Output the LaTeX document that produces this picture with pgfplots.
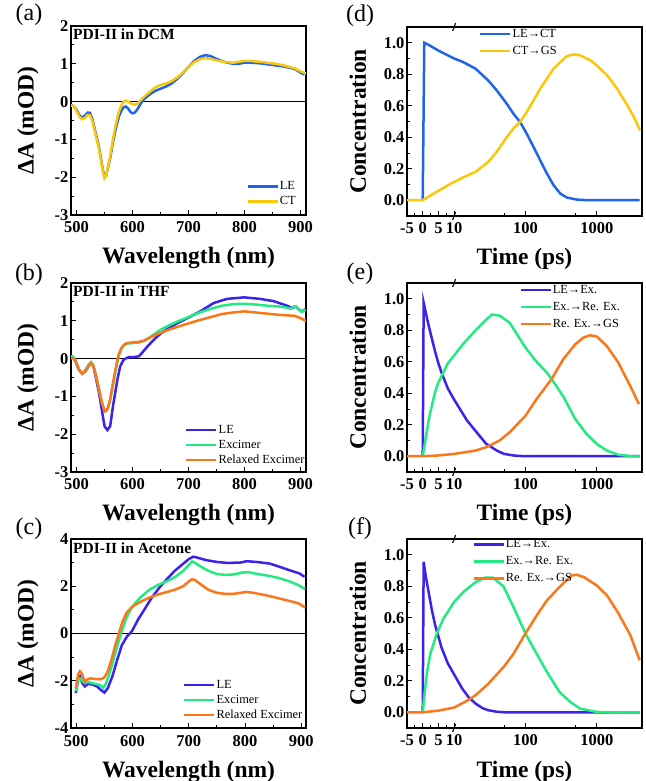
\documentclass[border=0pt]{standalone}
\usepackage{fontspec}
\setmainfont{Liberation Serif}
\usepackage{pgfplots}
\pgfplotsset{compat=1.18}
\definecolor{bA}{RGB}{31,100,235}
\definecolor{yA}{RGB}{250,200,10}
\definecolor{pB}{RGB}{60,35,235}
\definecolor{gB}{RGB}{35,235,130}
\definecolor{oB}{RGB}{250,120,25}
\newcommand{\tfont}{\fontsize{16.5}{16.5}\selectfont\bfseries}

\pgfplotsset{
  base/.style={scale only axis, width=235pt, height=189pt, anchor=south west,
    axis line style={line width=1.1pt}, tick align=inside, tick pos=left,
    major tick length=5pt, minor tick length=3pt,
    tick style={black, line width=0.9pt},
    /pgf/number format/assume math mode=true,
    xticklabel style={font=\tfont, yshift=-3pt},
    yticklabel style={font=\tfont, xshift=1pt},
    label style={font=\fontsize{23.5}{24}\selectfont\bfseries},
    xlabel style={at={(axis description cs:0.5,0)}, anchor=base, yshift=-49pt},
    clip mode=individual,
    legend cell align=left,
    legend style={draw=none, fill=none, inner sep=0pt, anchor=north west, row sep=1pt,
      nodes={inner sep=1pt, text height=9pt, text depth=3pt}, font=\fontsize{12.4}{12.4}\selectfont},
    legend image code/.code={\draw[#1,line width=2.5pt] (0pt,0pt) -- (30pt,0pt);},
    every axis plot/.append style={line width=2.5pt}},
  spec/.style={base, xmin=490, xmax=910, xtick={500,600,...,900},
    minor x tick num=1, minor y tick num=1,
    xlabel={Wavelength (nm)}, ylabel={ΔA (mOD)},
    ylabel style={at={(axis description cs:-0.183,0.5)}, anchor=center}},
  time/.style={base, xmin=-5, xmax=69.8, ymin=-0.1, ymax=1.1,
    xtick={-5,0,5,10,32.7,55.4}, xticklabels={-5,0,5,10,100,1000},
    minor xtick={-2.5,2.5,7.5,25.87,48.57},
    ytick={0,0.2,0.4,0.6,0.8,1.0}, minor y tick num=1,
    yticklabel style={/pgf/number format/.cd, fixed, fixed zerofill, precision=1},
    xlabel={Time (ps)}, ylabel={Concentration},
    legend style={row sep=3pt},
    ylabel style={at={(axis description cs:-0.209,0.5)}, anchor=center}},
  table/tt/.style={row sep=\\, y=c,
    x expr={\thisrow{t}>10 ? 10+22.7*(log10(max(\thisrow{t},1))-1) : \thisrow{t}}},
  table/sp/.style={row sep=\\, x=w, y=a}
}
\newcommand{\brk}{%
  \draw[line width=1.1pt] ([xshift=-1.5pt,yshift=-4pt]axis cs:10,1.1) -- ([xshift=1.5pt,yshift=4pt]axis cs:10,1.1);
  \draw[line width=1.1pt] ([xshift=-1.5pt,yshift=-4pt]axis cs:10,-0.1) -- ([xshift=1.5pt,yshift=4pt]axis cs:10,-0.1);}
\newcommand{\plabel}[3]{\node[font=\fontsize{24}{24}\selectfont] at ([xshift=#1,yshift=#2]rel axis cs:0,1) {#3};}
\newcommand{\ptitle}[2]{\node[anchor=north west, inner sep=0pt, font=\fontsize{15.5}{16}\selectfont\bfseries] at ([xshift=2pt,yshift=#1]rel axis cs:0,1) {#2};}

\begin{document}
\begin{tikzpicture}
\useasboundingbox (0,0) rectangle (645pt,781pt);

% (a) DCM
\begin{axis}[spec, at={(71pt,566pt)}, ymin=-3, ymax=2, ytick={-3,-2,...,2},
  legend style={at={(axis description cs:0.745,0.19)}}]
\addplot[black, line width=1pt, forget plot] coordinates {(480,0) (920,0)};
\addplot[bA] table[sp] {w a\\
490 -0.09\\ 495 -0.12\\ 500 -0.22\\ 505 -0.36\\ 510 -0.43\\ 515 -0.37\\ 520 -0.29\\ 524 -0.30\\
528 -0.45\\ 532 -0.70\\ 536 -0.95\\ 540 -1.20\\ 544 -1.55\\ 547 -1.82\\ 550 -2.00\\ 553 -1.95\\
556 -1.75\\ 560 -1.50\\ 564 -1.15\\ 568 -0.85\\ 572 -0.60\\ 576 -0.38\\ 580 -0.24\\ 584 -0.15\\
588 -0.13\\ 592 -0.18\\ 596 -0.27\\ 600 -0.31\\ 604 -0.29\\ 608 -0.22\\ 612 -0.12\\ 616 -0.02\\
620 0.06\\ 630 0.18\\ 640 0.28\\ 650 0.34\\ 660 0.40\\ 670 0.48\\ 680 0.60\\ 690 0.75\\ 700 0.92\\
710 1.07\\ 720 1.18\\ 730 1.23\\ 740 1.20\\ 750 1.13\\ 760 1.07\\ 770 1.03\\ 780 1.00\\ 790 1.00\\
800 1.03\\ 810 1.03\\ 820 1.02\\ 830 1.01\\ 840 0.99\\ 850 0.97\\ 860 0.95\\ 870 0.93\\ 880 0.90\\
890 0.86\\ 900 0.77\\ 905 0.73\\ 910 0.77\\};
\addplot[yA] table[sp] {w a\\
490 -0.10\\ 495 -0.12\\ 500 -0.25\\ 505 -0.40\\ 510 -0.47\\ 515 -0.43\\ 520 -0.35\\ 524 -0.36\\
528 -0.50\\ 532 -0.75\\ 536 -1.00\\ 540 -1.25\\ 544 -1.60\\ 547 -1.85\\ 550 -2.02\\ 553 -1.95\\
556 -1.72\\ 560 -1.45\\ 564 -1.08\\ 568 -0.75\\ 572 -0.48\\ 576 -0.25\\ 580 -0.10\\ 584 0.00\\
588 0.03\\ 592 0.00\\ 596 -0.04\\ 600 -0.07\\ 604 -0.08\\ 608 -0.06\\ 612 0.00\\ 616 0.06\\
620 0.12\\ 630 0.25\\ 640 0.37\\ 650 0.44\\ 660 0.48\\ 670 0.54\\ 680 0.64\\ 690 0.77\\ 700 0.92\\
710 1.04\\ 720 1.12\\ 730 1.15\\ 740 1.13\\ 750 1.09\\ 760 1.06\\ 770 1.04\\ 780 1.03\\ 790 1.05\\
800 1.08\\ 810 1.08\\ 820 1.06\\ 830 1.05\\ 840 1.03\\ 850 1.01\\ 860 0.99\\ 870 0.96\\ 880 0.92\\
890 0.88\\ 900 0.80\\ 910 0.74\\};
\legend{LE,CT}
\plabel{-42pt}{11pt}{(a)}
\ptitle{-3pt}{PDI-II in DCM}
\end{axis}

% (b) THF
\begin{axis}[spec, at={(71pt,309pt)}, ymin=-3, ymax=2, ytick={-3,-2,...,2},
  legend style={at={(axis description cs:0.485,0.26)}}]
\addplot[black, line width=1pt, forget plot] coordinates {(480,0) (920,0)};
\addplot[pB] table[sp] {w a\\
490 0.06\\ 494 0.02\\ 498 -0.07\\ 504 -0.29\\ 510 -0.40\\ 516 -0.33\\ 522 -0.18\\ 526 -0.11\\
530 -0.20\\ 534 -0.47\\ 540 -0.90\\ 546 -1.44\\ 550 -1.79\\ 555 -1.89\\ 560 -1.79\\ 565 -1.26\\
573 -0.55\\ 578 -0.20\\ 584 -0.03\\ 593 0.04\\ 602 0.04\\ 611 0.06\\ 617 0.15\\ 626 0.31\\
638 0.50\\ 650 0.66\\ 662 0.78\\ 680 0.94\\ 698 1.07\\ 721 1.25\\ 745 1.47\\ 769 1.58\\ 799 1.62\\
828 1.58\\ 852 1.52\\ 876 1.40\\ 885 1.34\\ 891 1.38\\ 897 1.30\\ 903 1.25\\ 909 1.30\\};
\addplot[gB] table[sp] {w a\\
490 0.07\\ 494 0.05\\ 498 -0.05\\ 504 -0.28\\ 510 -0.40\\ 516 -0.30\\ 522 -0.15\\ 526 -0.09\\
530 -0.18\\ 534 -0.40\\ 540 -0.80\\ 545 -1.15\\ 550 -1.38\\ 553 -1.38\\ 556 -1.30\\ 560 -1.10\\
565 -0.70\\ 570 -0.30\\ 575 0.05\\ 580 0.25\\ 585 0.35\\ 590 0.40\\ 600 0.41\\ 610 0.42\\
620 0.47\\ 630 0.55\\ 640 0.66\\ 650 0.76\\ 660 0.84\\ 680 0.98\\ 700 1.10\\ 720 1.22\\ 740 1.32\\
760 1.40\\ 780 1.44\\ 800 1.45\\ 820 1.43\\ 840 1.40\\ 860 1.38\\ 875 1.35\\ 882 1.32\\ 887 1.37\\
892 1.38\\ 897 1.30\\ 902 1.24\\ 906 1.26\\ 910 1.29\\};
\addplot[oB] table[sp] {w a\\
490 0.00\\ 494 0.02\\ 498 -0.04\\ 504 -0.28\\ 510 -0.40\\ 516 -0.32\\ 522 -0.17\\ 526 -0.12\\
530 -0.20\\ 534 -0.42\\ 540 -0.82\\ 545 -1.15\\ 550 -1.40\\ 553 -1.38\\ 556 -1.30\\ 560 -1.08\\
565 -0.65\\ 570 -0.25\\ 575 0.10\\ 580 0.28\\ 585 0.37\\ 590 0.41\\ 600 0.43\\ 610 0.44\\
620 0.47\\ 630 0.55\\ 640 0.62\\ 650 0.68\\ 660 0.74\\ 680 0.84\\ 700 0.93\\ 720 1.02\\ 740 1.10\\
760 1.18\\ 780 1.22\\ 800 1.25\\ 820 1.22\\ 840 1.19\\ 860 1.16\\ 880 1.14\\ 890 1.13\\ 900 1.07\\
910 1.00\\};
\legend{LE,Excimer,Relaxed Excimer}
\plabel{-42pt}{8pt}{(b)}
\ptitle{-3pt}{PDI-II in THF}
\end{axis}

% (c) Acetone
\begin{axis}[spec, at={(71pt,53pt)}, xmin=490.5, xmax=908.5, ymin=-4, ymax=4, ytick={-4,-2,...,4},
  xticklabel style={yshift=-0.5pt},
  legend style={at={(axis description cs:0.476,0.265)}}]
\addplot[black, line width=1pt, forget plot] coordinates {(480,0) (920,0)};
\addplot[pB] table[sp] {w a\\
499 -2.52\\ 503 -1.96\\ 506.5 -1.83\\ 510.6 -2.10\\ 515 -2.24\\ 521 -2.13\\ 528 -2.16\\ 537 -2.24\\
543 -2.38\\ 550 -2.50\\ 556 -2.31\\ 564 -1.82\\ 572.6 -1.12\\ 581 -0.49\\ 590 -0.13\\ 599 0.10\\
610 0.60\\ 622 1.05\\ 635 1.55\\ 648 1.95\\ 661 2.30\\ 675 2.65\\ 690 2.95\\ 700 3.15\\ 708 3.25\\
714 3.22\\ 732 3.10\\ 750 3.03\\ 767 2.99\\ 791 3.00\\ 803 3.06\\ 820 3.03\\ 844 2.96\\ 862 2.82\\
879 2.68\\ 897 2.54\\ 906 2.40\\};
\addplot[gB] table[sp] {w a\\
499 -2.45\\ 503 -1.95\\ 506.5 -1.90\\ 510 -2.00\\ 515 -2.10\\ 521 -2.05\\ 528 -2.10\\ 537 -2.15\\
543 -2.20\\ 548 -2.30\\ 553 -2.10\\ 558 -1.75\\ 565 -1.20\\ 572 -0.60\\ 580 0.05\\ 588 0.60\\
595 0.95\\ 605 1.30\\ 615 1.55\\ 630 1.85\\ 645 2.05\\ 660 2.20\\ 675 2.38\\ 690 2.65\\ 700 2.90\\
706 3.05\\ 712 2.98\\ 720 2.85\\ 735 2.65\\ 750 2.52\\ 765 2.48\\ 780 2.50\\ 795 2.58\\ 805 2.60\\
820 2.53\\ 840 2.45\\ 860 2.35\\ 880 2.20\\ 895 2.05\\ 907 1.88\\};
\addplot[oB] table[sp] {w a\\
499 -2.30\\ 503 -1.75\\ 506.5 -1.60\\ 510 -1.70\\ 515 -2.05\\ 519 -1.95\\ 525 -1.90\\ 535 -1.93\\
545 -1.93\\ 550 -1.85\\ 556 -1.60\\ 562 -1.15\\ 568 -0.60\\ 575 -0.05\\ 582 0.50\\ 590 0.90\\
600 1.15\\ 615 1.35\\ 630 1.52\\ 645 1.65\\ 660 1.75\\ 675 1.85\\ 690 2.00\\ 700 2.20\\ 706 2.30\\
712 2.25\\ 720 2.10\\ 735 1.85\\ 750 1.72\\ 765 1.68\\ 780 1.68\\ 795 1.73\\ 802 1.76\\ 815 1.72\\
835 1.63\\ 855 1.52\\ 875 1.40\\ 895 1.28\\ 907 1.10\\};
\legend{LE,Excimer,Relaxed Excimer}
\plabel{-42pt}{10pt}{(c)}
\ptitle{-4pt}{PDI-II in Acetone}
\end{axis}

% (d)
\begin{axis}[time, at={(407pt,565pt)},
  legend style={at={(axis description cs:0.306,1.0)}}]
\addplot[bA] table[tt] {t c\\
0 0\\ 0.5 1.0\\ 2 0.985\\ 5 0.95\\ 8 0.92\\ 10 0.9\\ 13.4 0.877\\ 20 0.835\\ 30 0.761\\
39.5 0.698\\ 54.6 0.613\\ 67.7 0.55\\ 84 0.497\\ 104 0.423\\ 130 0.338\\ 161 0.254\\ 200 0.169\\
248 0.095\\ 308 0.042\\ 382 0.017\\ 528 0.004\\ 700 0.001\\ 1000 0\\ 4000 0\\};
\addplot[yA] table[tt] {t c\\
-5 0\\ 0 0\\ 2 0.025\\ 5 0.06\\ 8 0.095\\ 10 0.116\\ 13.4 0.145\\ 20 0.18\\ 30 0.243\\
39.5 0.307\\ 54.6 0.40\\ 67.7 0.455\\ 84 0.497\\ 104 0.56\\ 130 0.634\\ 161 0.708\\ 200 0.772\\
248 0.835\\ 308 0.877\\ 382 0.915\\ 474 0.926\\ 589 0.92\\ 815 0.888\\ 1000 0.856\\ 1400 0.793\\
1932 0.708\\ 2673 0.603\\ 3319 0.529\\ 4036 0.444\\};
\legend{LE→CT,CT→GS}
\brk
\plabel{-47pt}{11pt}{(d)}
\end{axis}

% (e)
\begin{axis}[time, at={(407pt,309pt)},
  legend style={at={(axis description cs:0.477,1.0)}}]
\addplot[pB] table[tt] {t c\\
0 0\\ 0.3 0.975\\ 1 0.91\\ 2 0.82\\ 3 0.74\\ 4 0.66\\ 5 0.59\\ 6 0.53\\ 8 0.43\\ 10 0.36\\
15 0.23\\ 20 0.16\\ 28 0.08\\ 40 0.035\\ 50 0.015\\ 70 0.004\\ 100 0\\ 4000 0\\};
\addplot[gB] table[tt] {t c\\
0 0\\ 0.5 0.06\\ 1 0.12\\ 2 0.24\\ 3 0.33\\ 4 0.41\\ 5 0.47\\ 6.25 0.52\\ 8 0.59\\ 10 0.64\\
13.2 0.71\\ 20 0.80\\ 28.5 0.87\\ 34 0.9\\ 43.5 0.893\\ 60 0.848\\ 100 0.69\\ 143 0.6\\ 200 0.53\\
233 0.49\\ 339 0.38\\ 500 0.236\\ 720 0.141\\ 1000 0.078\\ 1380 0.036\\ 2000 0.01\\ 2940 0.001\\
4000 0\\};
\addplot[oB] table[tt] {t c\\
-5 0\\ 0 0\\ 5 0.005\\ 10 0.015\\ 20 0.036\\ 28 0.057\\ 43.5 0.1\\ 60 0.152\\ 100 0.257\\
143 0.363\\ 233 0.49\\ 339 0.616\\ 500 0.711\\ 650 0.753\\ 800 0.768\\ 1000 0.76\\ 1380 0.70\\
2000 0.595\\ 2940 0.447\\ 3900 0.331\\};
\legend{LE→Ex.,Ex.→Re. Ex.,Re. Ex.→GS}
\brk
\plabel{-47pt}{9pt}{(e)}
\end{axis}

% (f)
\begin{axis}[time, at={(407pt,53pt)},
  legend style={at={(axis description cs:0.277,1.01)}}]
\addplot[pB] table[tt] {t c\\
0 0\\ 0.3 0.955\\ 1 0.86\\ 2 0.75\\ 3 0.64\\ 4 0.55\\ 5 0.48\\ 6 0.41\\ 8 0.31\\ 10 0.24\\
13 0.15\\ 16 0.095\\ 20 0.055\\ 25 0.026\\ 30 0.013\\ 40 0.003\\ 50 0\\ 4000 0\\};
\addplot[gB] table[tt] {t c\\
0 0\\ 0.5 0.1\\ 1.35 0.25\\ 2.4 0.37\\ 4.5 0.5\\ 6.6 0.594\\ 10 0.70\\ 13.4 0.763\\ 20 0.826\\
27 0.854\\ 35 0.854\\ 49 0.8\\ 67.7 0.67\\ 100 0.5\\ 144 0.37\\ 200 0.256\\ 300 0.129\\
423 0.066\\ 587 0.023\\ 1000 0.002\\ 1500 0\\ 4000 0\\};
\addplot[oB] table[tt] {t c\\
-5 0\\ 0 0\\ 5 0.01\\ 10 0.03\\ 15.7 0.076\\ 20 0.108\\ 30 0.18\\ 50 0.29\\ 67.7 0.37\\
100 0.5\\ 144 0.615\\ 200 0.71\\ 300 0.795\\ 445 0.869\\ 524 0.873\\ 660 0.858\\ 1000 0.805\\
1390 0.742\\ 2000 0.63\\ 2950 0.49\\ 4000 0.33\\};
\legend{LE→Ex.,Ex.→Re. Ex.,Re. Ex.→GS}
\brk
\plabel{-47pt}{10pt}{(f)}
\end{axis}
\end{tikzpicture}
\end{document}
